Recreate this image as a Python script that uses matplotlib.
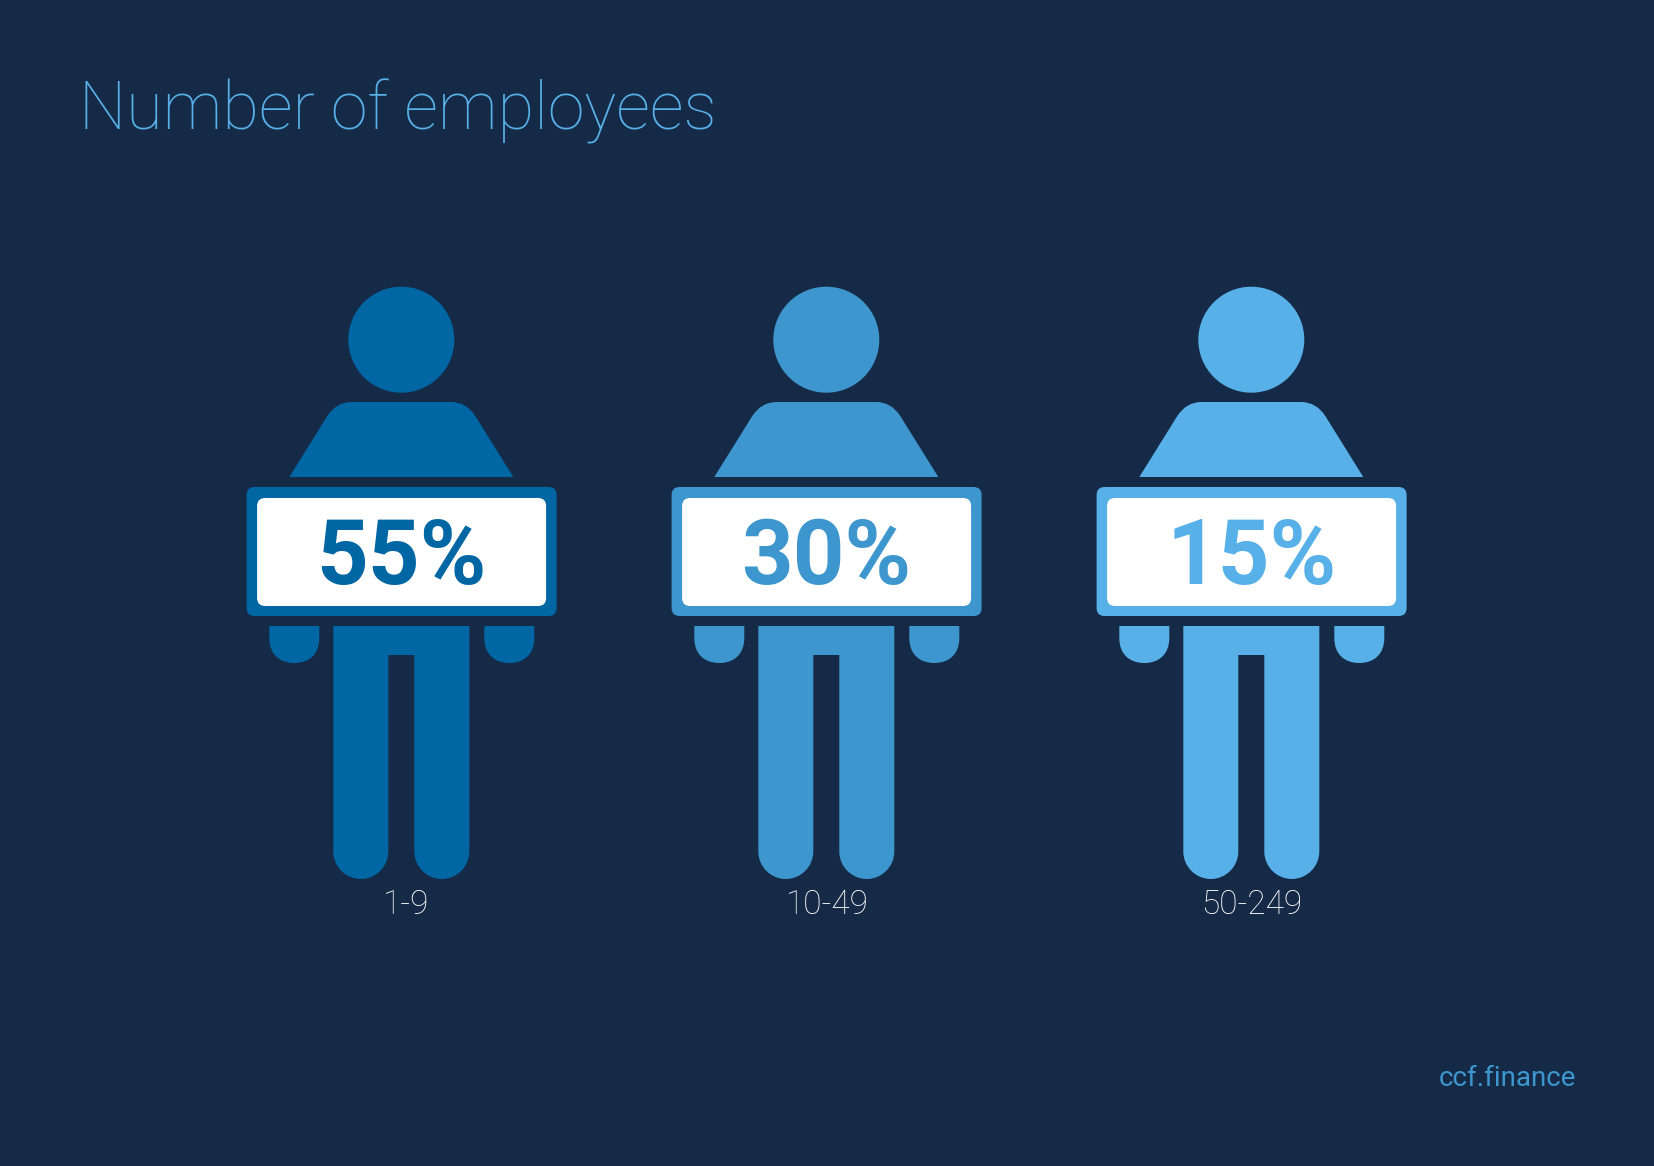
"""Number of employees pictogram, drawn in pixel-sized data units."""
import matplotlib
matplotlib.use("Agg")
import matplotlib.pyplot as plt
from matplotlib.patches import Circle, FancyBboxPatch, PathPatch
from matplotlib.path import Path

size_bands = ["1-9", "10-49", "50-249"]
shares = [55, 30, 15]
band_colors = ["#0066A4", "#3D96CE", "#58B0E8"]

BACKGROUND = "#152A47"
PERSON_X0 = 401.3
PERSON_STEP = 425
LABEL_NUDGE = [5, 1, 0.5]

plt.rcParams["font.family"] = ["Roboto", "DejaVu Sans"]


def add_shape(ax, verts, codes, color):
    ax.add_patch(PathPatch(Path(verts, codes), facecolor=color, edgecolor="none"))


def draw_torso(ax, cx, color):
    verts = [
        (cx - 112, 477), (cx - 74, 416), (cx - 65, 402), (cx - 50, 402),
        (cx + 50, 402), (cx + 65, 402), (cx + 74, 416), (cx + 112, 477),
        (cx - 112, 477),
    ]
    codes = [
        Path.MOVETO, Path.LINETO, Path.CURVE3, Path.CURVE3,
        Path.LINETO, Path.CURVE3, Path.CURVE3, Path.LINETO,
        Path.CLOSEPOLY,
    ]
    add_shape(ax, verts, codes, color)


def draw_hand(ax, left, color):
    r = 25
    k = 0.62 * r
    right = left + 2 * r
    mid = left + r
    top, shoulder, bottom = 626, 638, 663
    verts = [
        (left, top), (right, top), (right, shoulder),
        (right, shoulder + k), (mid + k, bottom), (mid, bottom),
        (mid - k, bottom), (left, shoulder + k), (left, shoulder),
        (left, top),
    ]
    codes = [
        Path.MOVETO, Path.LINETO, Path.LINETO,
        Path.CURVE4, Path.CURVE4, Path.CURVE4,
        Path.CURVE4, Path.CURVE4, Path.CURVE4,
        Path.CLOSEPOLY,
    ]
    add_shape(ax, verts, codes, color)


def draw_legs(ax, cx, color):
    k = 0.55 * 27.5
    top, crotch, knee, foot = 626, 655, 851.5, 879
    lx0, lx1 = cx - 68, cx - 13
    rx0, rx1 = cx + 13, cx + 68
    verts = [
        (lx0, top), (rx1, top), (rx1, knee),
        (rx1, knee + k), (rx1 - 27.5 + k, foot), (rx1 - 27.5, foot),
        (rx1 - 27.5 - k, foot), (rx0, knee + k), (rx0, knee),
        (rx0, crotch), (lx1, crotch), (lx1, knee),
        (lx1, knee + k), (lx1 - 27.5 + k, foot), (lx1 - 27.5, foot),
        (lx1 - 27.5 - k, foot), (lx0, knee + k), (lx0, knee),
        (lx0, top),
    ]
    codes = [
        Path.MOVETO, Path.LINETO, Path.LINETO,
        Path.CURVE4, Path.CURVE4, Path.CURVE4,
        Path.CURVE4, Path.CURVE4, Path.CURVE4,
        Path.LINETO, Path.LINETO, Path.LINETO,
        Path.CURVE4, Path.CURVE4, Path.CURVE4,
        Path.CURVE4, Path.CURVE4, Path.CURVE4,
        Path.CLOSEPOLY,
    ]
    add_shape(ax, verts, codes, color)


def draw_board(ax, cx, color, share):
    ax.add_patch(FancyBboxPatch(
        (cx - 154.7 + 8, 487 + 8), 310 - 16, 129 - 16,
        boxstyle="round,pad=8,rounding_size=8",
        facecolor=color, edgecolor="none",
    ))
    ax.add_patch(FancyBboxPatch(
        (cx - 144.2 + 8, 498 + 8), 289 - 16, 108 - 16,
        boxstyle="round,pad=8,rounding_size=8",
        facecolor="white", edgecolor="none",
    ))
    ax.text(cx, 584, f"{share}%", color=color, fontsize=65, fontweight="bold",
            ha="center", va="baseline")


fig = plt.figure(figsize=(16.54, 11.66), dpi=100, facecolor=BACKGROUND)
ax = fig.add_axes([0, 0, 1, 1])
ax.set_xlim(0, 1654)
ax.set_ylim(1166, 0)
ax.axis("off")

for i, (band, share, color) in enumerate(zip(size_bands, shares, band_colors)):
    cx = PERSON_X0 + i * PERSON_STEP
    ax.add_patch(Circle((cx, 339.7), 53, facecolor=color, edgecolor="none"))
    draw_torso(ax, cx, color)
    draw_board(ax, cx, color, share)
    draw_hand(ax, cx - 132, color)
    draw_hand(ax, cx + 83, color)
    draw_legs(ax, cx, color)
    ax.text(cx + LABEL_NUDGE[i], 914, band, color="white", fontsize=24, fontweight="light",
            ha="center", va="baseline")

ax.text(79, 129, "Number of employees", color="#58B0E8", fontsize=48, fontweight="ultralight",
        ha="left", va="baseline")
ax.text(1576, 1086, "ccf.finance", color="#3D96CE", fontsize=20,
        ha="right", va="baseline")

fig.savefig("out.png", dpi=100, facecolor=BACKGROUND)
plt.close(fig)
